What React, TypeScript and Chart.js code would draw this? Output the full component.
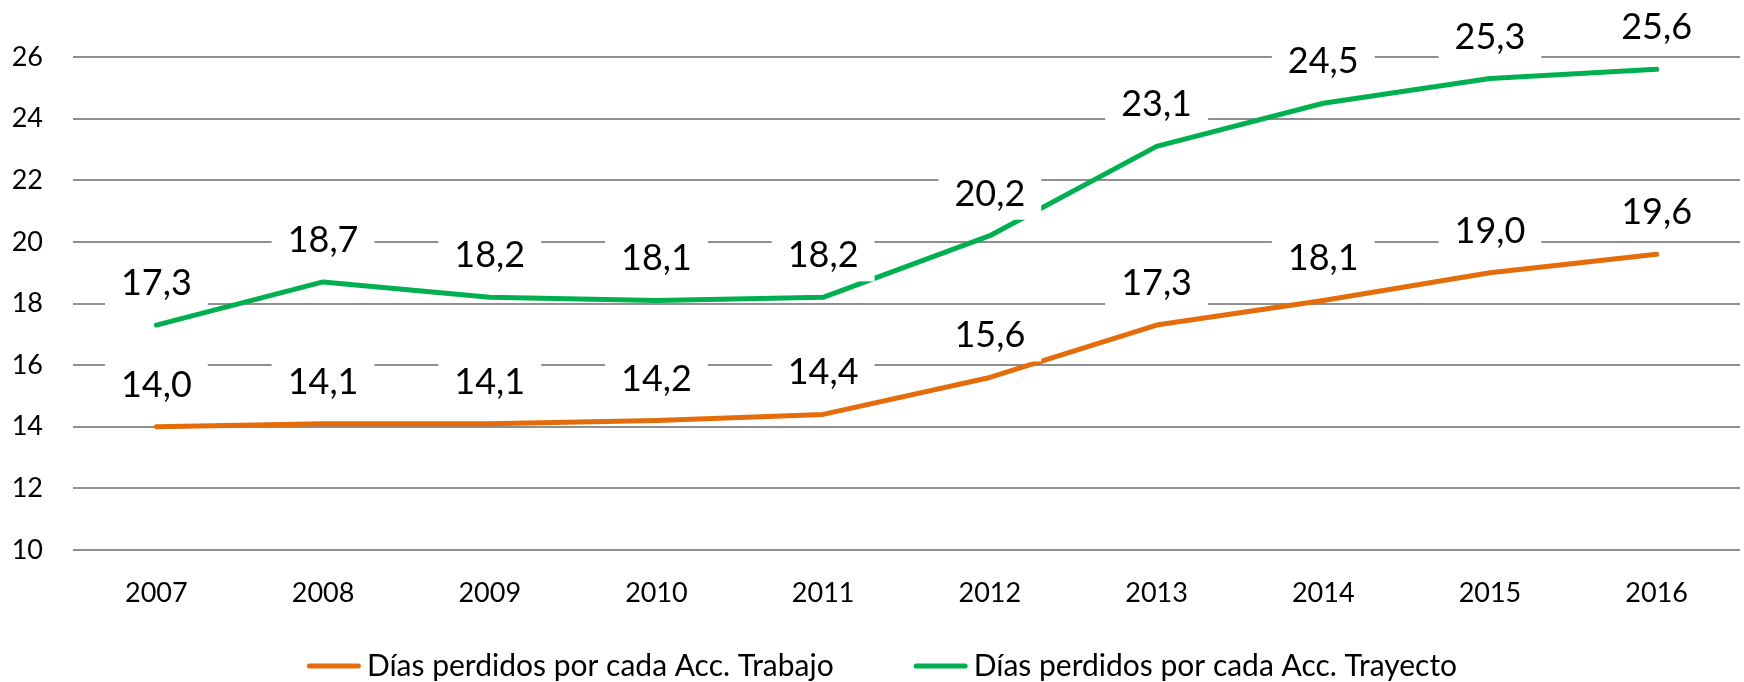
import React, { useEffect, useRef } from "react";
import { Chart, registerables } from "chart.js";

Chart.register(...registerables);

const years = ["2007", "2008", "2009", "2010", "2011", "2012", "2013", "2014", "2015", "2016"];
const trabajo = [14.0, 14.1, 14.1, 14.2, 14.4, 15.6, 17.3, 18.1, 19.0, 19.6];
const trayecto = [17.3, 18.7, 18.2, 18.1, 18.2, 20.2, 23.1, 24.5, 25.3, 25.6];
const seriesNames = ["Días perdidos por cada Acc. Trabajo", "Días perdidos por cada Acc. Trayecto"];
const seriesColors = ["#E46C0A", "#00B050"];
const yMin = 10;
const yMax = 26;
const yStep = 2;

const FONT = "Lato, 'Open Sans', sans-serif";

const dataLabelPlugin = {
  id: "dataLabels",
  afterDatasetsDraw(chart: any) {
    const ctx = chart.ctx;
    ctx.save();
    ctx.font = `36px ${FONT}`;
    ctx.textAlign = "center";
    ctx.textBaseline = "alphabetic";
    chart.data.datasets.forEach((ds: any, i: number) => {
      const meta = chart.getDatasetMeta(i);
      meta.data.forEach((pt: any, j: number) => {
        const txt = Number(ds.data[j]).toFixed(1).replace(".", ",");
        const w = ctx.measureText(txt).width + 32;
        const h = 54;
        const cx = pt.x;
        const cy = pt.y - 43;
        ctx.fillStyle = "#ffffff";
        ctx.fillRect(cx - w / 2, cy - h / 2, w, h);
        ctx.fillStyle = "#000000";
        ctx.fillText(txt, cx, cy + 13);
      });
    });
    ctx.restore();
  },
};

const legendPlugin = {
  id: "customLegend",
  afterDraw(chart: any) {
    const ctx = chart.ctx;
    ctx.save();
    ctx.font = `30px ${FONT}`;
    const lineLen = 54;
    const gap = 6;
    const spacing = 80;
    const items = chart.data.datasets.map((ds: any) => ({
      text: ds.label,
      color: ds.borderColor,
      w: ctx.measureText(ds.label).width,
    }));
    const total = items.reduce((s: number, it: any) => s + lineLen + gap + it.w, 0) + spacing * (items.length - 1);
    let x = chart.width / 2 + 10 - total / 2;
    const y = 666;
    items.forEach((it: any) => {
      ctx.strokeStyle = it.color;
      ctx.lineWidth = 5;
      ctx.lineCap = "round";
      ctx.beginPath();
      ctx.moveTo(x + 2.5, y);
      ctx.lineTo(x + lineLen - 2.5, y);
      ctx.stroke();
      ctx.fillStyle = "#000000";
      ctx.textAlign = "left";
      ctx.textBaseline = "alphabetic";
      ctx.fillText(it.text, x + lineLen + gap, y + 10);
      x += lineLen + gap + it.w + spacing;
    });
    ctx.restore();
  },
};

export default function App() {
  const canvasRef = useRef<HTMLCanvasElement | null>(null);

  useEffect(() => {
    if (!canvasRef.current) return;
    const chart = new Chart(canvasRef.current, {
      type: "line",
      data: {
        labels: years,
        datasets: [
          {
            label: seriesNames[0],
            data: trabajo,
            borderColor: seriesColors[0],
            backgroundColor: seriesColors[0],
            borderWidth: 5,
            borderCapStyle: "round",
            borderJoinStyle: "round",
            pointRadius: 0,
            tension: 0,
          },
          {
            label: seriesNames[1],
            data: trayecto,
            borderColor: seriesColors[1],
            backgroundColor: seriesColors[1],
            borderWidth: 5,
            borderCapStyle: "round",
            borderJoinStyle: "round",
            pointRadius: 0,
            tension: 0,
          },
        ],
      },
      options: {
        responsive: false,
        animation: false,
        layout: { padding: { top: 57, right: 4, left: 0, bottom: 0 } },
        plugins: {
          legend: { display: false },
          tooltip: { enabled: false },
        },
        scales: {
          x: {
            offset: true,
            grid: { display: false, drawTicks: false },
            border: { display: false },
            ticks: { color: "#000", font: { family: FONT, size: 27 }, padding: 27 },
            afterFit: (s: any) => {
              s.height = 132;
            },
          },
          y: {
            min: yMin,
            max: yMax,
            grid: { color: "#8f8f8f", lineWidth: 2, drawTicks: false },
            border: { display: false },
            ticks: { stepSize: yStep, color: "#000", font: { family: FONT, size: 27 }, padding: 30 },
            afterFit: (s: any) => {
              s.width = 73;
            },
          },
        },
      },
      plugins: [dataLabelPlugin, legendPlugin],
    });
    return () => chart.destroy();
  }, []);

  return (
    <div style={{ position: "absolute", left: 0, top: 0, width: 1744, height: 682, background: "#fff" }}>
      <canvas ref={canvasRef} width={1744} height={682} style={{ display: "block" }} />
    </div>
  );
}
